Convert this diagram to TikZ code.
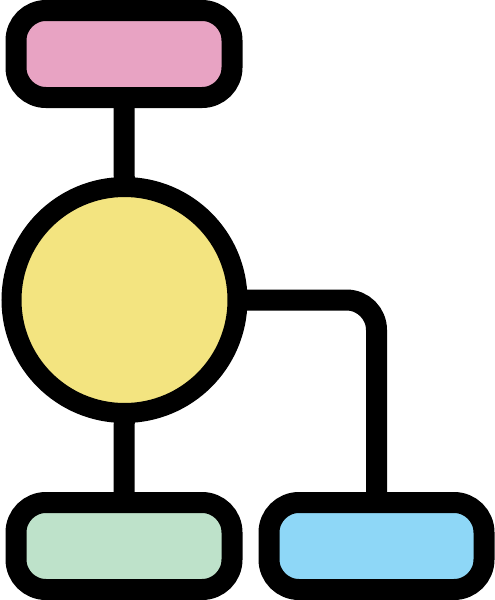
\documentclass[tikz,border=0pt]{standalone}
\usetikzlibrary{backgrounds}
\definecolor{cpink}{HTML}{E8A3C3}
\definecolor{cyellow}{HTML}{F3E480}
\definecolor{cgreen}{HTML}{BEE2CA}
\definecolor{cblue}{HTML}{8ED7F7}
\begin{document}
\begin{tikzpicture}[x=1pt,y=-1pt,
  box/.style={draw=black,line width=21pt,rounded corners=30pt,inner sep=0pt,
    minimum width=216pt,minimum height=87pt},
  ball/.style={circle,draw=black,line width=20pt,fill=cyellow,inner sep=0pt,minimum size=226pt},
  link/.style={draw=black,line width=21pt}]
\useasboundingbox (0,0) rectangle (495,600);
\node[box,fill=cpink] (top) at (124,54) {};
\node[ball] (circ) at (124.5,300) {};
\node[box,fill=cgreen] (left) at (124,546) {};
\node[box,fill=cblue,minimum width=215pt] (right) at (376.5,546) {};
\begin{pgfonlayer}{background}
\path[link] (top.center) -- (circ.center);
\path[link] (circ.center) -- (left.center);
\path[link,rounded corners=30pt] (circ.center) -| (right.center);
\end{pgfonlayer}
\end{tikzpicture}
\end{document}
